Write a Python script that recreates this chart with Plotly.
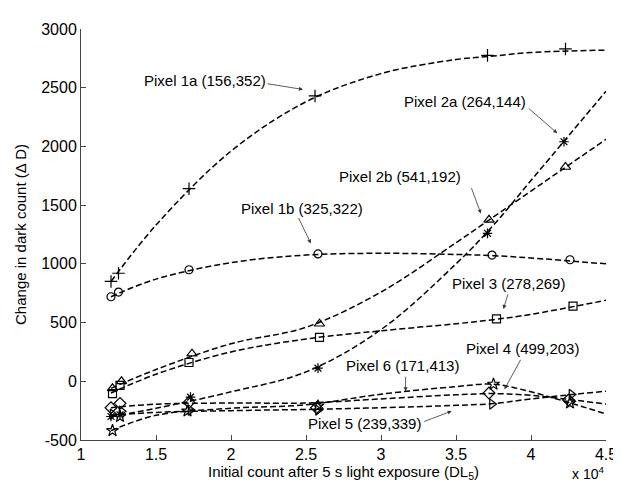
import plotly.graph_objects as go

# ---------------- data ----------------
# fitted-curve samples
curve_x = [1.2, 1.5, 2.0, 2.5, 3.0, 3.5, 3.75, 4.0, 4.5]
curve_1a = [850, 1330, 1960, 2380, 2620, 2740, 2770, 2800, 2820]
curve_1b = [720, 870, 1010, 1075, 1090, 1080, 1070, 1050, 1000]
curve_2a = [-300, -230, -90, 80, 440, 1000, 1330, 1710, 2470]
curve_2b = [-60, 100, 320, 460, 760, 1180, 1400, 1620, 2060]
curve_3 = [-100, 60, 250, 360, 430, 490, 525, 570, 690]
curve_4 = [-225, -195, -185, -185, -150, -115, -105, -120, -194]
curve_5 = [-290, -265, -250, -240, -225, -205, -190, -150, -84]
curve_6 = [-420, -290, -230, -200, -110, -45, -25, -90, -278]

# measured points (markers)
x_1a = [1.20, 1.25, 1.72, 2.56, 3.71, 4.23]
y_1a = [850, 920, 1640, 2430, 2775, 2830]
x_1b = [1.20, 1.25, 1.72, 2.58, 3.74, 4.26]
y_1b = [720, 760, 950, 1085, 1075, 1035]
x_2a = [1.20, 1.26, 1.73, 2.58, 3.71, 4.22]
y_2a = [-300, -285, -135, 112, 1260, 2040]
x_2b = [1.21, 1.27, 1.74, 2.59, 3.72, 4.23]
y_2b = [-60, 0, 235, 490, 1375, 1825]
x_3 = [1.21, 1.26, 1.72, 2.59, 3.77, 4.28]
y_3 = [-105, -35, 160, 374, 532, 640]
x_4 = [1.20, 1.26, 1.72, 2.57, 3.72, 4.25]
y_4 = [-225, -188, -180, -225, -100, -160]
x_5 = [1.21, 1.27, 1.73, 2.58, 3.74, 4.27]
y_5 = [-280, -255, -245, -245, -194, -112]
x_6 = [1.21, 1.26, 1.71, 2.58, 3.75, 4.26]
y_6 = [-420, -300, -253, -210, -25, -185]

x_ticks = [1, 1.5, 2, 2.5, 3, 3.5, 4, 4.5]
x_tick_labels = ["1", "1.5", "2", "2.5", "3", "3.5", "4", "4.5"]
y_ticks = [-500, 0, 500, 1000, 1500, 2000, 2500, 3000]
y_tick_labels = ["-500", "0", "500", "1000", "1500", "2000", "2500", "3000"]

labels = ["Pixel 1a (156,352)", "Pixel 1b (325,322)", "Pixel 2a (264,144)",
          "Pixel 2b (541,192)", "Pixel 3 (278,269)", "Pixel 4 (499,203)",
          "Pixel 5 (239,339)", "Pixel 6 (171,413)"]

# ---------------- figure ----------------
FONT = "Liberation Sans, Arial, Helvetica, sans-serif"
fig = go.Figure()

series = [
    (curve_1a, x_1a, y_1a, "cross-thin-open", 9),
    (curve_1b, x_1b, y_1b, "circle-open", 8),
    (curve_2a, x_2a, y_2a, "asterisk-open", 8),
    (curve_2b, x_2b, y_2b, "triangle-up-open", 9),
    (curve_3, x_3, y_3, "square-open", 8),
    (curve_4, x_4, y_4, "diamond-open", 9),
    (curve_5, x_5, y_5, "triangle-right-open", 9),
    (curve_6, x_6, y_6, "star-open", 9),
]
for cy, mx, my, sym, sz in series:
    fig.add_trace(go.Scatter(x=curve_x, y=cy, mode="lines",
                             line=dict(color="black", width=1.5, dash="6px,3px", shape="spline", smoothing=1.0),
                             showlegend=False, hoverinfo="skip"))
    fig.add_trace(go.Scatter(x=mx, y=my, mode="markers",
                             marker=dict(symbol=sym, size=sz, color="black",
                                         line=dict(color="black", width=1.2)),
                             showlegend=False))

# text labels (centre positions) and arrows (head, tail offset in px)
text_pos = [(1.828, 2561), (2.473, 1470), (3.559, 2383), (3.125, 1741),
            (3.849, 836), (3.940, 278), (2.887, -356), (3.141, 134)]
arrows = [(2.480, 2485, -37, -6), (2.532, 1174, -13, -27), (4.175, 2113, -30, -26),
          (3.666, 1428, -10, -27), (3.816, 616, 5, -16), (3.823, -68, 17, -31),
          (3.471, -254, -29, 11), (3.164, -85, 0, -16)]
for lab, (tx, ty), (hx, hy, ax, ay) in zip(labels, text_pos, arrows):
    fig.add_annotation(x=tx, y=ty, text=lab, showarrow=False, xanchor="center", yanchor="middle",
                       font=dict(family=FONT, size=15, color="black"))
    fig.add_annotation(x=hx, y=hy, ax=ax, ay=ay, text="", showarrow=True,
                       arrowhead=2, arrowsize=1, arrowwidth=0.8, arrowcolor="#333", standoff=0)

# exponent note
fig.add_annotation(xref="paper", yref="paper", x=1.0, y=-0.106, text="x 10<sup>4</sup>",
                   showarrow=False, xanchor="right", yanchor="bottom",
                   font=dict(family=FONT, size=14, color="black"))

fig.update_layout(
    width=621, height=481,
    margin=dict(l=73, r=12, t=21, b=48),
    paper_bgcolor="white", plot_bgcolor="white",
    font=dict(family=FONT, size=16, color="black"),
    xaxis=dict(range=[1, 4.5], tickvals=x_ticks, ticktext=x_tick_labels,
               ticks="inside", ticklen=5, tickcolor="#444", showline=True, linecolor="#444",
               linewidth=1, showgrid=False, zeroline=False,
               title=dict(text="Initial count after 5 s light exposure (DL<sub>5</sub>)",
                          font=dict(size=15), standoff=3)),
    yaxis=dict(range=[-500, 3000], tickvals=y_ticks, ticktext=y_tick_labels,
               ticks="inside", ticklen=5, tickcolor="#444", showline=True, linecolor="#444",
               linewidth=1, showgrid=False, zeroline=False,
               title=dict(text="Change in dark count (\u0394 D)", font=dict(size=15), standoff=10)),
)

fig.write_html("out.html")
